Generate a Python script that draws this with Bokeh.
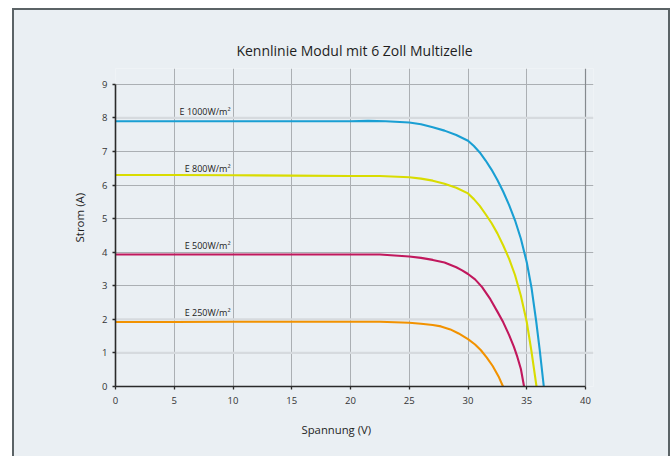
from bokeh.plotting import figure
from bokeh.models import FixedTicker, Span, Label, Range1d, Title, InlineStyleSheet
from bokeh.embed import file_html
from bokeh.resources import INLINE

# ---------------- data ----------------
title_text = "Kennlinie Modul mit 6 Zoll Multizelle"
x_label = "Spannung (V)"
y_label = "Strom (A)"
x_ticks = [0, 5, 10, 15, 20, 25, 30, 35, 40]
y_ticks = [0, 1, 2, 3, 4, 5, 6, 7, 8, 9]

series_names = ["E 1000W/m²", "E 800W/m²", "E 500W/m²", "E 250W/m²"]

v_1000 = [0, 5, 10, 15, 20, 21.5, 23, 25, 26, 27, 28, 29, 30, 30.5, 31, 31.5, 32, 32.5,
          33, 33.5, 34, 34.5, 35, 35.4, 35.8, 36.1, 36.45]
i_1000 = [7.90, 7.90, 7.90, 7.90, 7.90, 7.91, 7.90, 7.86, 7.81, 7.72, 7.62, 7.49, 7.32, 7.16,
          6.97, 6.73, 6.46, 6.15, 5.80, 5.40, 4.95, 4.40, 3.70, 2.95, 1.95, 1.10, 0]

v_800 = [0, 5, 10, 15, 20, 22.5, 25, 26, 27, 28, 29, 30, 30.5, 31, 31.5, 32, 32.5, 33,
         33.5, 34, 34.5, 35, 35.4, 35.83]
i_800 = [6.30, 6.30, 6.29, 6.28, 6.27, 6.27, 6.23, 6.19, 6.13, 6.04, 5.92, 5.75, 5.58, 5.38,
         5.13, 4.87, 4.56, 4.20, 3.80, 3.32, 2.70, 1.92, 1.05, 0]

v_500 = [0, 5, 10, 15, 20, 22.5, 25, 26, 27, 28, 29, 29.5, 30, 30.6, 31.2, 31.9, 32.5, 33,
         33.5, 33.9, 34.2, 34.5, 34.77]
i_500 = [3.93, 3.93, 3.93, 3.93, 3.93, 3.93, 3.87, 3.83, 3.77, 3.69, 3.55, 3.46, 3.35, 3.19,
         2.96, 2.60, 2.23, 1.91, 1.53, 1.19, 0.88, 0.52, 0]

v_250 = [0, 5, 10, 15, 20, 22.5, 25, 26, 27, 27.7, 28.5, 29.2, 30, 30.6, 31.1, 31.6, 32.1,
         32.6, 32.98]
i_250 = [1.92, 1.92, 1.93, 1.93, 1.93, 1.93, 1.90, 1.87, 1.83, 1.79, 1.70, 1.58, 1.41, 1.25,
         1.08, 0.86, 0.61, 0.30, 0]

# ---------------- style / layout ----------------
colors = ["#1a9fd3", "#d9dc00", "#c1185d", "#f29200"]
label_dy = [0.28, 0.18, 0.27, 0.28]
BG = "#eaeff3"
FONT = "Open Sans"
TXT = "#1e1e1e"

W, H = 671, 456
ML, MR, MT, MB = 115, 78, 68, 70
X_END, Y_END = 40.68, 9.47

p = figure(width=W, height=H, output_backend="svg", toolbar_location=None,
           x_range=Range1d(0, X_END), y_range=Range1d(0, Y_END),
           min_border_left=ML, min_border_right=MR, min_border_top=MT, min_border_bottom=MB,
           background_fill_color=BG, border_fill_color=BG)
p.outline_line_color = None

# title
p.title.text = title_text
p.title.align = "center"
p.title.offset = -3
p.title.text_font = FONT
p.title.text_font_size = "14px"
p.title.text_font_style = "normal"
p.title.text_color = TXT
p.title.standoff = 18

# axes
for ax, ticks, bnd in ((p.xaxis, x_ticks, (0, 40)), (p.yaxis, y_ticks, (0, 9))):
    ax.ticker = FixedTicker(ticks=ticks)
    ax.bounds = bnd
    ax.axis_line_color = "#2a2a2a"
    ax.axis_line_width = 1.6
    ax.major_tick_line_color = "#2a2a2a"
    ax.major_tick_line_width = 1.3
    ax.major_tick_out = 3
    ax.major_tick_in = 0
    ax.minor_tick_line_color = None
    ax.major_label_text_font = FONT
    ax.major_label_text_font_size = "9.5px"
    ax.major_label_text_color = "#333333"
p.xaxis.major_label_standoff = 7
p.yaxis.major_label_standoff = 5

# axis titles
p.add_layout(Title(text=x_label, align="left", offset=186, standoff=26, text_font=FONT,
                   text_font_size="11.3px", text_font_style="normal", text_color=TXT), "below")
p.add_layout(Title(text=y_label, align="left", offset=144, standoff=25, text_font=FONT,
                   text_font_size="11.5px", text_font_style="normal", text_color=TXT), "left")

# grids
p.xgrid.ticker = FixedTicker(ticks=x_ticks[1:-1])
p.xgrid.grid_line_color = "#abafb3"
p.xgrid.grid_line_width = 1
p.ygrid.ticker = FixedTicker(ticks=[3, 4, 5, 6, 7, 9])
p.ygrid.grid_line_color = "#abafb3"
p.ygrid.grid_line_width = 1
p.add_layout(Span(location=x_ticks[-1], dimension="height", line_color="#858a8e",
                  line_width=1.2, level="underlay"))
for yv in (1, 2, 8):
    p.add_layout(Span(location=yv, dimension="width", line_color="#d6dade",
                      line_width=2.2, level="underlay"))

# curves
all_v = [v_1000, v_800, v_500, v_250]
all_i = [i_1000, i_800, i_500, i_250]
for name, vs, cs, col, dy in zip(series_names, all_v, all_i, colors, label_dy):
    p.line(vs, cs, line_color=col, line_width=2.1, line_join="round")
    p.add_layout(Label(x=9.79, y=cs[0] + dy, text=name, text_align="right",
                       text_baseline="middle", text_font=FONT, text_font_size="9px",
                       text_color="#222222"))

# outer frame drawn with CSS
css = """
:host { position: relative; }
:host::after {
  content: "";
  position: absolute;
  left: 12px; top: 8px; right: 1px; bottom: 0px;
  border: 2px solid #5b6366;
  border-bottom: none;
  box-shadow: 0 0 0 12px #ffffff;
  pointer-events: none;
  z-index: 10;
}
"""
p.stylesheets = [InlineStyleSheet(css=css)]

open("out.html", "w").write(file_html(p, INLINE))
